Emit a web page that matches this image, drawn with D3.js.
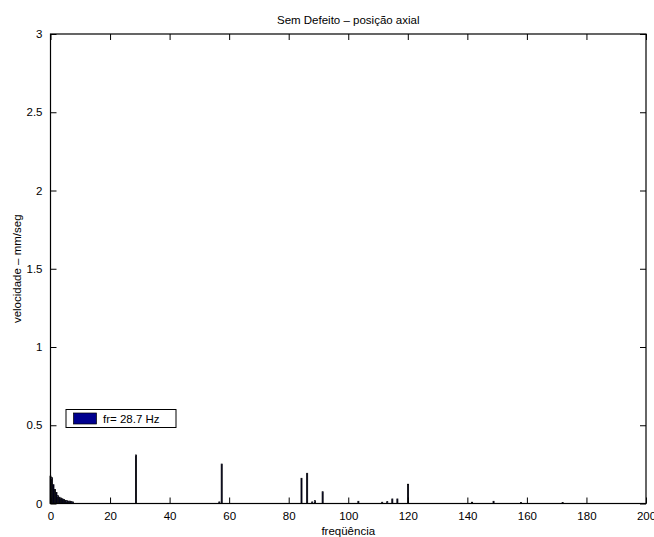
<!DOCTYPE html>
<html>
<head>
<meta charset="utf-8">
<script src="https://cdn.jsdelivr.net/npm/d3@7"></script>
<style>
  body { margin: 0; background: #fff; }
  text { font-family: "Liberation Sans", Arial, sans-serif; fill: #000; }
</style>
</head>
<body>
<svg id="chart" width="654" height="537"></svg>
<script>
// spectrum (Hz, mm/seg)
var freqs = [0, 0.5, 1, 1.5, 2, 2.5, 3, 3.5, 4, 4.5, 5, 5.5, 6, 6.5, 7, 7.5,
  28.7, 56.7, 57.5, 84.3, 86.2, 87.9, 88.8, 91.4, 103.4, 111.4, 113.1, 114.8,
  116.5, 120.1, 141.6, 148.8, 158, 172]
var amps = [0.175, 0.165, 0.12, 0.09, 0.07, 0.05, 0.04, 0.035, 0.03, 0.025, 0.02, 0.018, 0.015, 0.015, 0.012, 0.01,
  0.31, 0.01, 0.252, 0.161, 0.193, 0.01, 0.018, 0.075, 0.014, 0.008, 0.012, 0.029,
  0.029, 0.123, 0.008, 0.014, 0.006, 0.006]
var xTicks = [0, 20, 40, 60, 80, 100, 120, 140, 160, 180, 200]
var yTicks = [0, 0.5, 1, 1.5, 2, 2.5, 3]
var legendLabel = "fr= 28.7 Hz"

var svg = d3.select("#chart")
// plot box edges (note: "top" is taken by window.top)
var pLeft = 50.5, pRight = 646, pTop = 34, pBottom = 503.5

var x = d3.scaleLinear().domain([0, 200]).range([pLeft, pRight])
var y = d3.scaleLinear().domain([0, 3]).range([pBottom, pTop])

// bars (narrow, MATLAB style - edges make them look black)
var barW = x(0.35) - x(0)
svg.append("g").selectAll("rect")
  .data(freqs)
  .enter().append("rect")
  .attr("x", function(d) { return x(d) - barW / 2 })
  .attr("y", function(d, i) { return y(amps[i]) })
  .attr("width", barW)
  .attr("height", function(d, i) { return pBottom - y(amps[i]) })
  .attr("fill", "#000040")
  .attr("stroke", "#000")
  .attr("stroke-width", 0.8)

// axes with inward ticks on all four sides
var tickLen = 6
var fmt = function(d) { return d3.format("")(d) }
svg.append("g").attr("transform", "translate(0," + pBottom + ")")
  .call(d3.axisBottom(x).tickValues(xTicks).tickSizeInner(-tickLen).tickSizeOuter(0).tickPadding(8).tickFormat(fmt))
svg.append("g").attr("transform", "translate(0," + pTop + ")")
  .call(d3.axisTop(x).tickValues(xTicks).tickSizeInner(-tickLen).tickSizeOuter(0).tickFormat(""))
svg.append("g").attr("transform", "translate(" + pLeft + ",0)")
  .call(d3.axisLeft(y).tickValues(yTicks).tickSizeInner(-tickLen).tickSizeOuter(0).tickPadding(8).tickFormat(fmt))
svg.append("g").attr("transform", "translate(" + pRight + ",0)")
  .call(d3.axisRight(y).tickValues(yTicks).tickSizeInner(-tickLen).tickSizeOuter(0).tickFormat(""))

svg.selectAll(".domain").remove()
svg.selectAll(".tick line").attr("stroke", "#000").attr("stroke-width", 1)
svg.selectAll(".tick text").attr("font-size", 11.5).attr("font-family", "Liberation Sans, Arial, sans-serif")

svg.append("rect")
  .attr("x", pLeft).attr("y", pTop)
  .attr("width", pRight - pLeft).attr("height", pBottom - pTop)
  .attr("fill", "none").attr("stroke", "#000").attr("stroke-width", 1.2)

// titles
svg.append("text").attr("x", (pLeft + pRight) / 2).attr("y", 24)
  .attr("text-anchor", "middle").attr("font-size", 11.5).text("Sem Defeito – posição axial")
svg.append("text").attr("x", (pLeft + pRight) / 2).attr("y", 535)
  .attr("text-anchor", "middle").attr("font-size", 11.5).text("freqüência")
svg.append("text")
  .attr("transform", "translate(21," + (pTop + pBottom) / 2 + ") rotate(-90)")
  .attr("text-anchor", "middle").attr("font-size", 11.5).text("velocidade – mm/seg")

// legend
var lg = svg.append("g").attr("transform", "translate(66,409.5)")
lg.append("rect").attr("width", 110).attr("height", 18)
  .attr("fill", "#fff").attr("stroke", "#000").attr("stroke-width", 1)
lg.append("rect").attr("x", 7.5).attr("y", 3.5).attr("width", 23).attr("height", 11)
  .attr("fill", "#00008f").attr("stroke", "#000").attr("stroke-width", 0.7)
lg.append("text").attr("x", 37).attr("y", 13.5).attr("font-size", 11.5).text(legendLabel)
</script>
</body>
</html>
